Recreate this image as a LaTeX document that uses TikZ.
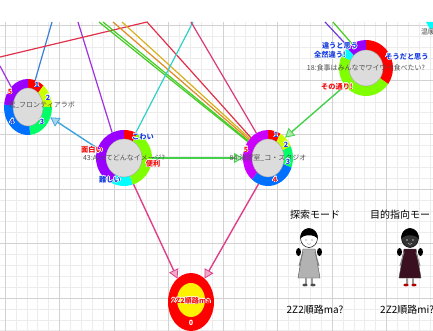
\documentclass[tikz,border=0pt]{standalone}
\usepackage{fontspec}
\setmainfont{Noto Sans CJK JP}
\usepackage{contour}
\contourlength{0.5pt}
\usetikzlibrary{arrows.meta, shapes.geometric}
% couleurs des anneaux
\definecolor{rouge}{HTML}{FF0000}
\definecolor{citron}{HTML}{CCFF00}
\definecolor{pomme}{HTML}{80FF00}
\definecolor{menthe}{HTML}{00FF66}
\definecolor{turquoise}{HTML}{00FFFF}
\definecolor{azur}{HTML}{0070FF}
\definecolor{pourpre}{HTML}{9900FF}
\definecolor{mauve}{HTML}{CC00FF}
\definecolor{centre}{HTML}{DCDCDC}
% couleurs des liens
\definecolor{lbleu}{HTML}{3A7FD5}
\definecolor{lviolet}{HTML}{A030E0}
\definecolor{lindigo}{HTML}{6A3AE0}
\definecolor{lrouge}{HTML}{E0304A}
\definecolor{lvert}{HTML}{44CC22}
\definecolor{lorange}{HTML}{E08A20}
\definecolor{ljaune}{HTML}{D8B020}
\definecolor{lcyan}{HTML}{30D0C8}
\definecolor{lrose}{HTML}{D83A7A}
\definecolor{fbleu}{HTML}{3FA3DC}
\definecolor{fvert}{HTML}{44D04A}
\definecolor{frose}{HTML}{E0408A}
% fond et textes
\definecolor{fil}{HTML}{ECECEC}
\definecolor{filfort}{HTML}{D2D2D2}
\definecolor{texte}{HTML}{505050}
\definecolor{bleulab}{HTML}{1A3FE0}
\definecolor{rougelab}{HTML}{F01010}
\definecolor{robe}{HTML}{3A0F1F}

% secteur : cx, cy, rx, ry, debut, fin, couleur
\newcommand\secteur[7]{%
  \fill[#7] (#1,#2) -- ++(#5:#3 and #4) arc[start angle=#5, end angle=#6, x radius=#3, y radius=#4] -- cycle;}
% anneau : nom, cx, cy, rx, ry, rix, riy, secteurs
\newcommand\anneau[8]{%
  \foreach \a/\b/\coul in {#8} {\secteur{#2}{#3}{#4}{#5}{\a}{\b}{\coul}}
  \filldraw[fill=centre, draw=gray!70, line width=0.4] (#2,#3) ellipse[x radius=#6, y radius=#7];
  \node[ellipse, inner sep=0, outer sep=0, minimum width=2*#4, minimum height=2*#5] (#1) at (#2,#3) {};}
% personnage : x, visage, robe, chaussures
\newcommand\personnage[4]{%
  \begin{scope}[shift={(#1,-238)}]
    \fill[black] (-10.5,-14) ellipse[x radius=2.5, y radius=4];
    \fill[black] (10.5,-14) ellipse[x radius=2.5, y radius=4];
    \filldraw[fill=#3, draw=black!70, line width=0.4] (-6,-11) -- (6,-11) -- (11,-40) -- (-11,-40) -- cycle;
    \draw[gray, line width=1] (-6,-14) -- (-10,-28) (6,-14) -- (10,-28);
    \draw[gray!80, line width=1.3] (-3,-40) -- (-3,-46) (3,-40) -- (3,-46);
    \fill[#4] (-4,-47) ellipse[x radius=2.6, y radius=1.4];
    \fill[#4] (4,-47) ellipse[x radius=2.6, y radius=1.4];
    \filldraw[fill=#2, draw=black, line width=0.5] (0,0) ellipse[x radius=8.5, y radius=9.5];
    \fill[black] (-8.75,-1) arc[start angle=186, end angle=-6, x radius=8.8, y radius=9.8] .. controls (6,4) and (-6,4) .. cycle;
    \fill[gray!60!white] (-3,-2) circle (0.8) (3,-2) circle (0.8);
    \draw[gray!60!white, line width=0.5] (-2,-5) .. controls (0,-7) .. (2,-5);
  \end{scope}}

\begin{document}
\begin{tikzpicture}[x=1pt, y=1pt,
    trait/.style={line width=1.2pt},
    fleche/.style={draw=#1, line width=1.4pt, -{Triangle[length=9pt, width=10pt, fill=#1!45, line width=0.8pt]}},
    texte/.style={font=\fontsize{7}{8}\selectfont, text=texte, inner sep=0},
    lab/.style={font=\fontsize{7.2}{8}\selectfont\bfseries, text=#1, inner sep=0},
    legende/.style={font=\fontsize{10}{11}\selectfont, text=black, inner sep=0}]
  \useasboundingbox (0,0) rectangle (433,-331);
  \fill[white] (0,0) rectangle (433,-331);

  % Grille
  \begin{scope}[shift={(5,-80)}]
    \draw[fil, line width=0.5] (-5,58) grid[step=10.9] (428,-251);
    \draw[filfort, line width=0.7] (-5,58) grid[step=54.5] (428,-251);
  \end{scope}

  % Anneaux : debut/fin/couleur
  \anneau{A}{28}{-107}{24}{28}{15}{19}{50/90/rouge, 0/50/citron, -85/0/menthe, 175/275/azur, 90/175/pourpre}
  \anneau{B}{124}{-158}{28}{28}{18}{19}{62/90/rouge, -72/62/pomme, -117/-72/turquoise, 90/243/pourpre}
  \anneau{C}{268}{-158}{25}{28}{16}{19}{60/90/rouge, 25/60/citron, -20/25/menthe, -130/-20/azur, 90/230/mauve}
  \anneau{D}{366}{-68}{27}{28}{17}{18}{-35/90/rouge, 90/135/pourpre, 135/155/turquoise, 155/325/pomme}
  % Anneau du bas
  \fill[rouge] (191,-302) ellipse[x radius=23, y radius=29];
  \fill[yellow] (191,-300) ellipse[x radius=14, y radius=17];
  \node[ellipse, inner sep=0, outer sep=0, minimum width=46, minimum height=58] (E) at (191,-302) {};

  % Liens venant du haut
  \foreach \nom/\x/\y in {hb/52/22, hv/78/22, hg/0/66, hr/0/57, hs/147/22, hv1/99/22, hv2/103/22,
      ho1/113/22, ho2/122/22, hc/193/22, hp/191/22, hi/325/22, hw/333/22}
    \coordinate (\nom) at (\x,-\y);
  \draw[trait, lbleu] (hb) -- (A.75);
  \draw[trait, lviolet] (hv) -- (B.115);
  \draw[trait, lviolet] (hg) -- (A.130);
  \draw[trait, lrouge] (hr) -- (hs) -- (C.130);
  \draw[trait, lvert] (hv1) -- (C.141);
  \draw[trait, lvert] (hv2) -- (C.139);
  \draw[trait, lorange] (ho1) -- (C.136);
  \draw[trait, ljaune] (ho2) -- (C.133);
  \draw[trait, lcyan] (hc) -- (B.65);
  \draw[trait, lrose] (hp) -- (C.115);
  \draw[trait, lindigo] (hi) -- (D.130);
  \draw[trait, lvert] (hw) -- (D.120);

  % Fleches
  \draw[fleche=fbleu] (B.160) -- (A.-25);
  \draw[fleche=fvert] (B.0) -- (C.180);
  \draw[fleche=fvert] (D.220) -- (C.50);
  \draw[fleche=frose] (B.-70) -- (E.120);
  \draw[fleche=frose] (C.-110) -- (E.60);

  % Textes des anneaux
  \node[texte, anchor=east] (tA) at (75,-105) {究\_フロンティアラボ};
  \node[texte] (tB) at (124,-158) {43:AIってどんなイメージ?};
  \node[texte] (tC) at (268,-158) {84:演習室\_コ・スタジオ};
  \node[texte] (tD) at (366,-68) {18:食事はみんなでワイワイ食べたい?};
  \node[lab=rougelab] (tE) at (191,-301) {\contour{white}{2Z2順路ma}};
  \node[lab=white] (nE) at (191,-323) {0};

  % Numeros et reponses
  \foreach \x/\y/\t/\c in {37/85/1/bleulab, 48/98/2/bleulab, 42/122/3/bleulab, 12/122/4/bleulab, 10/92/5/rougelab,
      276/135/1/bleulab, 286/145/2/bleulab, 288/162/3/bleulab, 275/180/4/rougelab, 246/150/5/rougelab}
    \node[lab=\c] at (\x,-\y) {\contour{white}{\t}};
  \node[lab=bleulab] (r1) at (143,-137) {\contour{white}{こわい}};
  \node[lab=rougelab] (r2) at (92,-150) {\contour{white}{面白い}};
  \node[lab=rougelab] (r3) at (153,-164) {\contour{white}{便利}};
  \node[lab=bleulab] (r4) at (110,-180) {\contour{white}{難しい}};
  \node[lab=bleulab] (r5) at (340,-46) {\contour{white}{違うと思う}};
  \node[lab=bleulab] (r6) at (330,-55) {\contour{white}{全然違う!}};
  \node[lab=bleulab] (r7) at (407,-57) {\contour{white}{そうだと思う}};
  \node[lab=rougelab] (r8) at (337,-87) {\contour{white}{その通り!}};

  % Coin haut droit
  \fill[turquoise] (426,-22) -- (433,-22) -- (433,-28) -- (430,-29) -- cycle;
  \node[texte, anchor=west] (tF) at (421,-32) {温暖};

  % Modes
  \node[legende] (m1) at (315,-215) {探索モード};
  \node[legende, anchor=west] (m2) at (370,-215) {目的指向モード};
  \personnage{309}{white}{gray!60}{black!70}
  \personnage{410}{black!80}{robe}{red!70!black}
  \node[legende] (q1) at (315,-310) {2Z2順路ma?};
  \node[legende, anchor=west] (q2) at (380,-310) {2Z2順路mi?};
\end{tikzpicture}
\end{document}
